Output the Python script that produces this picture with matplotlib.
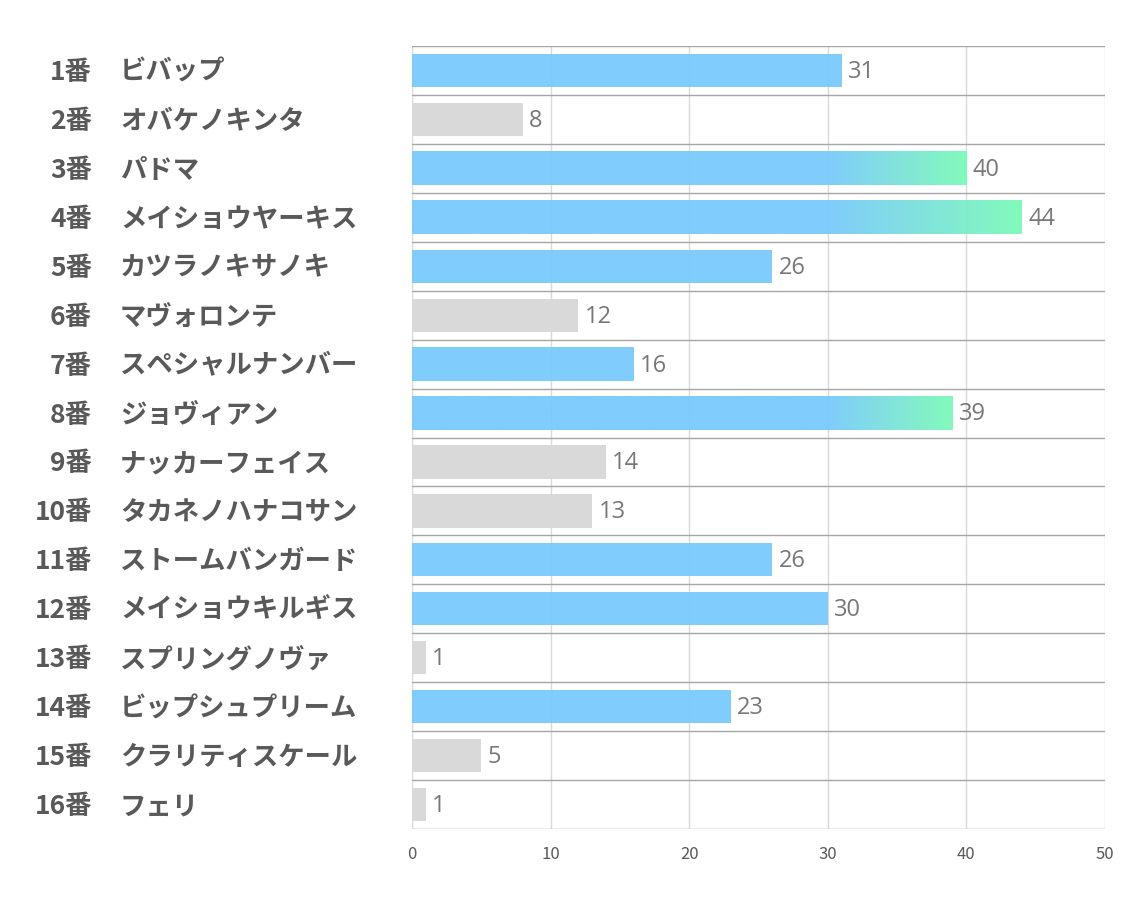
import matplotlib
matplotlib.use("Agg")
import matplotlib.pyplot as plt
import numpy as np
from matplotlib.colors import to_rgb

plt.rcParams['font.family'] = ['Noto Sans CJK JP', 'DejaVu Sans']

numbers = ["1番", "2番", "3番", "4番", "5番", "6番", "7番", "8番",
           "9番", "10番", "11番", "12番", "13番", "14番", "15番", "16番"]
names = ["ビバップ", "オバケノキンタ", "パドマ", "メイショウヤーキス", "カツラノキサノキ",
         "マヴォロンテ", "スペシャルナンバー", "ジョヴィアン", "ナッカーフェイス",
         "タカネノハナコサン", "ストームバンガード", "メイショウキルギス", "スプリングノヴァ",
         "ビップシュプリーム", "クラリティスケール", "フェリ"]
values = [31, 8, 40, 44, 26, 12, 16, 39, 14, 13, 26, 30, 1, 23, 5, 1]
kinds = ["blue", "gray", "grad", "grad", "blue", "gray", "blue", "grad",
         "gray", "gray", "blue", "blue", "gray", "blue", "gray", "gray"]
xticks = [0, 10, 20, 30, 40, 50]

BLUE = "#79CAFC"
GRAY = "#D9D9D9"
GREEN = "#7CFAB8"
grad_start = 30

fig = plt.figure(figsize=(11.34, 9.07), dpi=100)
W, H = 1134, 907
ax = fig.add_axes([412 / W, 1 - 829 / H, (1105 - 412) / W, (829 - 46) / H])
n = len(values)
ax.set_xlim(0, 50)

# grid
for t in xticks:
    ax.axvline(t, color="#D9D9D9", lw=1, zorder=1)
for k in range(n + 1):
    ax.axhline(k - 0.5, color="#A6A6A6", lw=1, zorder=1)

bh = 0.68
b = np.array(to_rgb(BLUE))
g = np.array(to_rgb(GREEN))
for i, (v, kd) in enumerate(zip(values, kinds)):
    if kd == "gray":
        ax.barh(i, v, height=bh, color=GRAY, zorder=2)
    elif kd == "blue":
        ax.barh(i, v, height=bh, color=BLUE, alpha=0.95, zorder=2)
    else:
        xs = np.linspace(0, v, 600)
        f = np.clip((xs - grad_start) / (v - grad_start), 0, 1)[:, None]
        rgb = (b * (1 - f) + g * f)[None, :, :]
        ax.imshow(rgb, aspect="auto", alpha=0.95, interpolation="bilinear",
                  extent=[0, v, i + bh / 2, i - bh / 2], zorder=2)
    ax.text(v + 0.45, i + 0.03, str(v), va="center", ha="left", fontsize=17,
            color="#777777", family=["Open Sans", "DejaVu Sans"], zorder=3)
    y_fig = 1 - (48 + (i + 0.5) * (829 - 46) / n) / H
    fig.text(92 / W, y_fig, numbers[i], ha="right", va="center", fontsize=19,
             fontweight="bold", color="#595959")
    fig.text(120 / W, y_fig, names[i], ha="left", va="center", fontsize=19,
             fontweight="bold", color="#595959")

ax.set_ylim(n - 0.5, -0.5)
ax.set_xticks(xticks)
ax.set_yticks([])
ax.tick_params(axis="x", length=0, pad=12, labelsize=12, labelcolor="#595959")
for s in ax.spines.values():
    s.set_visible(False)

fig.savefig("out.png", dpi=100)
